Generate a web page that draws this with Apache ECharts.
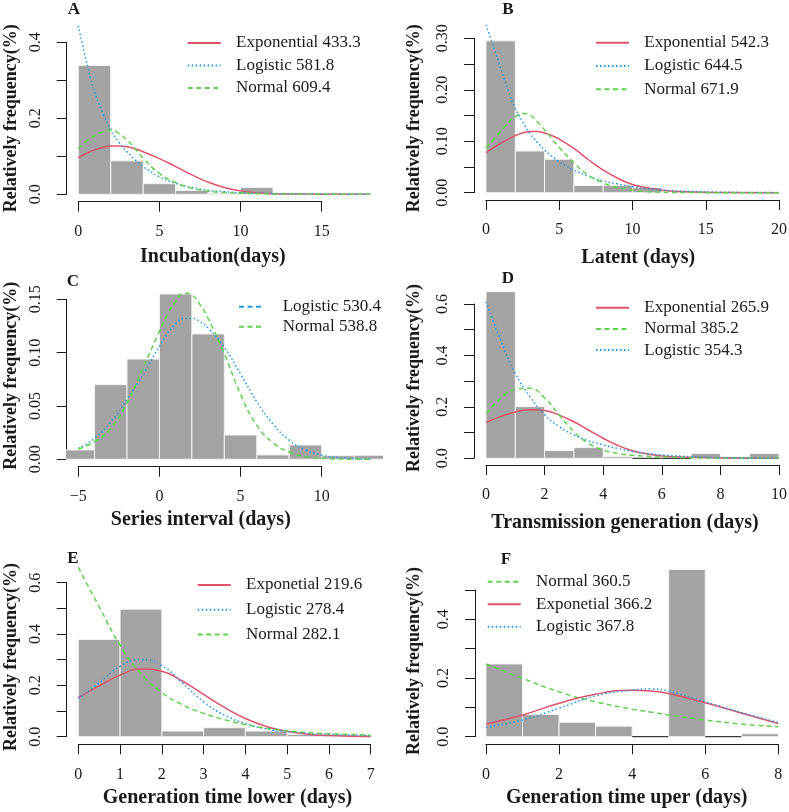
<!DOCTYPE html>
<html><head><meta charset="utf-8">
<script src="https://cdn.jsdelivr.net/npm/echarts@6/dist/echarts.min.js"></script>
<style>html,body{margin:0;padding:0;background:#fff}#c{width:789px;height:812px}</style>
</head><body><div id="c"></div>
<script>
// ===================== DATA =====================
// Panel A: Incubation
const A_binStarts = [0, 2, 4, 6, 8, 10];
const A_binWidth = 2;
const A_freq = [0.339, 0.088, 0.028, 0.010, 0.003, 0.018];
const A_curveX = [0, 0.5, 1, 1.5, 2, 2.5, 3, 3.5, 4, 5, 6, 7, 8, 9, 10, 11, 12, 14, 16, 18];
const A_exponential = [0.096, 0.108, 0.117, 0.123, 0.127, 0.127, 0.125, 0.120, 0.112, 0.094, 0.073, 0.051, 0.032, 0.018, 0.009, 0.004, 0.0015, 0.0005, 0.0002, 0.0001];
const A_logistic = [0.443, 0.350, 0.270, 0.216, 0.169, 0.137, 0.112, 0.091, 0.073, 0.046, 0.029, 0.018, 0.011, 0.007, 0.004, 0.003, 0.002, 0.001, 0.0005, 0.0003];
const A_normal = [0.121, 0.140, 0.154, 0.164, 0.169, 0.160, 0.143, 0.120, 0.095, 0.055, 0.031, 0.016, 0.008, 0.005, 0.003, 0.002, 0.001, 0.0005, 0.0002, 0.0001];
const A_xTicks = [0, 5, 10, 15];
const A_yTicks = [0, 0.1, 0.2, 0.3, 0.4];
const A_yTickLabels = ['0.0', '', '0.2', '', '0.4'];

// Panel B: Latent
const B_binStarts = [0, 2, 4, 6, 8, 10];
const B_binWidth = 2;
const B_freq = [0.295, 0.081, 0.065, 0.014, 0.014, 0.010];
const B_curveX = [0, 0.5, 1, 1.5, 2, 2.5, 3, 3.5, 4, 4.5, 5, 6, 7, 8, 9, 10, 11, 12, 14, 16, 20];
const B_exponential = [0.078, 0.087, 0.096, 0.104, 0.111, 0.116, 0.119, 0.119, 0.116, 0.111, 0.104, 0.086, 0.064, 0.044, 0.028, 0.016, 0.0097, 0.005, 0.0013, 0.0004, 0.0001];
const B_logistic = [0.326, 0.285, 0.242, 0.200, 0.164, 0.138, 0.115, 0.098, 0.083, 0.071, 0.060, 0.044, 0.032, 0.023, 0.017, 0.012, 0.008, 0.005, 0.0025, 0.001, 0.0003];
const B_normal = [0.087, 0.103, 0.119, 0.135, 0.148, 0.154, 0.151, 0.138, 0.122, 0.105, 0.088, 0.058, 0.034, 0.019, 0.010, 0.005, 0.002, 0.001, 0.0003, 0.0001, 0];
const B_xTicks = [0, 5, 10, 15, 20];
const B_yTicks = [0, 0.05, 0.10, 0.15, 0.20, 0.25, 0.30];
const B_yTickLabels = ['0.00', '', '0.10', '', '0.20', '', '0.30'];

// Panel C: Series interval
const C_binStarts = [-6, -4, -2, 0, 2, 4, 6, 8, 10, 12];
const C_binWidth = 2;
const C_freq = [0.0088, 0.070, 0.094, 0.155, 0.1175, 0.0228, 0.0041, 0.0134, 0.0034, 0.0038];
const C_curveX = [-5, -4, -3, -2, -1, 0, 0.5, 1, 1.5, 2, 2.5, 3, 4, 5, 6, 7, 8, 9, 10, 11, 12, 13];
const C_logistic = [0.0103, 0.0197, 0.035, 0.056, 0.080, 0.106, 0.118, 0.127, 0.132, 0.132, 0.129, 0.123, 0.105, 0.080, 0.054, 0.033, 0.018, 0.0088, 0.004, 0.0016, 0.0006, 0.0002];
const C_normal = [0.0097, 0.0166, 0.029, 0.053, 0.086, 0.120, 0.136, 0.148, 0.156, 0.154, 0.145, 0.132, 0.099, 0.061, 0.032, 0.0155, 0.0068, 0.0025, 0.001, 0.0003, 0.0001, 0];
const C_xTicks = [-5, 0, 5, 10];
const C_yTicks = [0, 0.05, 0.10, 0.15];
const C_yTickLabels = ['0.00', '0.05', '0.10', '0.15'];

// Panel D: Transmission generation
const D_binStarts = [0, 1, 2, 3, 4, 5, 6, 7, 8, 9];
const D_binWidth = 1;
const D_freq = [0.648, 0.201, 0.030, 0.0415, 0.0065, 0, 0, 0.019, 0.0065, 0.019];
const D_curveX = [0, 0.5, 1, 1.5, 2, 2.5, 3, 3.5, 4, 4.5, 5, 5.5, 6, 7, 8, 9, 10];
const D_exponential = [0.140, 0.162, 0.180, 0.189, 0.186, 0.168, 0.142, 0.110, 0.078, 0.050, 0.0295, 0.017, 0.009, 0.004, 0.0015, 0.0005, 0.0002];
const D_normal = [0.172, 0.233, 0.268, 0.272, 0.235, 0.168, 0.104, 0.058, 0.032, 0.019, 0.0117, 0.008, 0.005, 0.002, 0.001, 0.0005, 0.0002];
const D_logistic = [0.609, 0.460, 0.330, 0.240, 0.170, 0.123, 0.091, 0.068, 0.052, 0.038, 0.027, 0.019, 0.013, 0.0065, 0.0026, 0.001, 0.0004];
const D_xTicks = [0, 2, 4, 6, 8, 10];
const D_yTicks = [0, 0.1, 0.2, 0.3, 0.4, 0.5, 0.6];
const D_yTickLabels = ['0.0', '', '0.2', '', '0.4', '', '0.6'];

// Panel E: Generation time lower
const E_binStarts = [0, 1, 2, 3, 4, 5, 6];
const E_binWidth = 1;
const E_freq = [0.379, 0.497, 0.022, 0.035, 0.022, 0.009, 0.0065];
const E_curveX = [0, 0.5, 1, 1.5, 2, 2.5, 3, 3.5, 4, 4.5, 5, 5.5, 6, 6.5, 7];
const E_exponetial = [0.152, 0.198, 0.240, 0.264, 0.255, 0.216, 0.165, 0.114, 0.071, 0.040, 0.021, 0.010, 0.0045, 0.002, 0.001];
const E_logistic = [0.149, 0.210, 0.274, 0.301, 0.277, 0.208, 0.136, 0.084, 0.051, 0.031, 0.0195, 0.013, 0.009, 0.006, 0.004];
const E_normal = [0.660, 0.506, 0.357, 0.245, 0.172, 0.124, 0.091, 0.066, 0.047, 0.033, 0.023, 0.016, 0.0117, 0.009, 0.0065];
const E_xTicks = [0, 1, 2, 3, 4, 5, 6, 7];
const E_yTicks = [0, 0.1, 0.2, 0.3, 0.4, 0.5, 0.6];
const E_yTickLabels = ['0.0', '', '0.2', '', '0.4', '', '0.6'];

// Panel F: Generation time uper
const F_binStarts = [0, 1, 2, 3, 4, 5, 6, 7];
const F_binWidth = 1;
const F_freq = [0.248, 0.076, 0.049, 0.036, 0, 0.570, 0, 0.010];
const F_curveX = [0, 1, 2, 3, 4, 4.5, 5, 6, 7, 8];
const F_normal = [0.248, 0.199, 0.153, 0.119, 0.094, 0.084, 0.074, 0.057, 0.043, 0.034];
const F_exponetial = [0.043, 0.074, 0.114, 0.145, 0.158, 0.156, 0.147, 0.116, 0.080, 0.045];
const F_logistic = [0.032, 0.057, 0.097, 0.139, 0.159, 0.1625, 0.155, 0.119, 0.082, 0.049];
const F_xTicks = [0, 2, 4, 6, 8];
const F_yTicks = [0, 0.1, 0.2, 0.3, 0.4, 0.5];
const F_yTickLabels = ['0.0', '', '0.2', '', '0.4', ''];

const yAxisTitle = 'Relatively frequency(%)';

// ===================== STYLE / LAYOUT =====================
const FONT = '"Liberation Serif", "Times New Roman", serif';
const RED = '#DF536B', GREEN = '#61D04F', BLUE = '#2297E6', BAR = '#A3A3A3', INK = '#1a1a1a';
const SOLID = 'solid', DOTTED = [1.5, 2.5], DASHED = [5, 3.5];

const panels = [
  { tag: 'A', xTitle: 'Incubation(days)', bins: [A_binStarts, A_binWidth, A_freq], x: A_curveX,
    curves: [['Exponential 433.3', A_exponential, RED, SOLID], ['Logistic 581.8', A_logistic, BLUE, DOTTED], ['Normal 609.4', A_normal, GREEN, DASHED]],
    xTicks: A_xTicks, yTicks: A_yTicks, yLabels: A_yTickLabels,
    L: { tx: [78.3, 321.7], ty: [194.3, 42.3], xr: [-0.72, 18.72], yr: [-0.0195, 0.51], xLine: 201.7, yLine: 66.7,
         tagPos: [74, 10], xTitlePos: [212.8, 256.7], yTitlePos: [11, 118.3], lg: { left: 186.7, top: 34.5, gap: 5.5, w: 33, pad: 10.3 } } },
  { tag: 'B', xTitle: 'Latent (days)', bins: [B_binStarts, B_binWidth, B_freq], x: B_curveX,
    curves: [['Exponential 542.3', B_exponential, RED, SOLID], ['Logistic 644.5', B_logistic, BLUE, DOTTED], ['Normal 671.9', B_normal, GREEN, DASHED]],
    xTicks: B_xTicks, yTicks: B_yTicks, yLabels: B_yTickLabels,
    L: { tx: [486, 779], ty: [192.7, 38.3], xr: [-0.8, 20.8], yr: [-0.0142, 0.369], xLine: 200, yLine: 474,
         tagPos: [508, 10], xTitlePos: [638.3, 258], yTitlePos: [414, 118.3], lg: { left: 595, top: 34.2, gap: 6.3, w: 33, pad: 10.3 } } },
  { tag: 'C', xTitle: 'Series interval (days)', bins: [C_binStarts, C_binWidth, C_freq], x: C_curveX,
    curves: [['Logistic 530.4', C_logistic, BLUE, DOTTED], ['Normal 538.8', C_normal, GREEN, DASHED]],
    legendLine: DASHED, xTicks: C_xTicks, yTicks: C_yTicks, yLabels: C_yTickLabels,
    L: { tx: [78.3, 321.7], ty: [459.3, 299.3], xr: [-5.72, 13.72], yr: [-0.0069, 0.18], xLine: 466.7, yLine: 66.7,
         tagPos: [73, 281.7], xTitlePos: [200.8, 520], yTitlePos: [11, 375.8], lg: { left: 238, top: 298.2, gap: 3, w: 22, pad: 16.7 } } },
  { tag: 'D', xTitle: 'Transmission generation (days)', bins: [D_binStarts, D_binWidth, D_freq], x: D_curveX,
    curves: [['Exponential 265.9', D_exponential, RED, SOLID], ['Normal 385.2', D_normal, GREEN, DASHED], ['Logistic 354.3', D_logistic, BLUE, DOTTED]],
    xTicks: D_xTicks, yTicks: D_yTicks, yLabels: D_yTickLabels,
    L: { tx: [486, 779], ty: [458.3, 304], xr: [-0.4, 10.4], yr: [-0.026, 0.676], xLine: 465, yLine: 474,
         tagPos: [508, 278.3], xTitlePos: [625, 523.3], yTitlePos: [414, 378], lg: { left: 595, top: 299.2, gap: 4.2, w: 33, pad: 10.3 } } },
  { tag: 'E', xTitle: 'Generation time lower (days)', bins: [E_binStarts, E_binWidth, E_freq], x: E_curveX,
    curves: [['Exponetial 219.6', E_exponetial, RED, SOLID], ['Logistic 278.4', E_logistic, BLUE, DOTTED], ['Normal 282.1', E_normal, GREEN, DASHED]],
    xTicks: E_xTicks, yTicks: E_yTicks, yLabels: E_yTickLabels,
    L: { tx: [78.3, 370.7], ty: [736.7, 582.7], xr: [-0.28, 7.28], yr: [-0.0296, 0.77], xLine: 744.3, yLine: 66.7,
         tagPos: [73, 558.3], xTitlePos: [227.5, 798.3], yTitlePos: [11, 657], lg: { left: 196.7, top: 576.5, gap: 7.7, w: 33, pad: 10.3 } } },
  { tag: 'F', xTitle: 'Generation time uper (days)', bins: [F_binStarts, F_binWidth, F_freq], x: F_curveX,
    curves: [['Normal 360.5', F_normal, GREEN, DASHED], ['Exponetial 366.2', F_exponetial, RED, SOLID], ['Logistic 367.8', F_logistic, BLUE, DOTTED]],
    xTicks: F_xTicks, yTicks: F_yTicks, yLabels: F_yTickLabels,
    L: { tx: [486, 778.3], ty: [736.7, 590], xr: [-0.32, 8.32], yr: [-0.026, 0.676], xLine: 744.3, yLine: 475,
         tagPos: [506, 560], xTitlePos: [626.7, 798.3], yTitlePos: [414, 661], lg: { left: 486.7, top: 573.2, gap: 5.5, w: 33, pad: 10.3 } } }
];

// ===================== BUILD =====================
const grid = [], xAxis = [], yAxis = [], series = [], legend = [], graphic = [];

panels.forEach((p, i) => {
  const L = p.L;
  const xt0 = p.xTicks[0], xt1 = p.xTicks[p.xTicks.length - 1];
  const yt0 = p.yTicks[0], yt1 = p.yTicks[p.yTicks.length - 1];
  const sx = (L.tx[1] - L.tx[0]) / (xt1 - xt0);
  const sy = (L.ty[0] - L.ty[1]) / (yt1 - yt0);
  grid.push({ left: L.tx[0] + (L.xr[0] - xt0) * sx, width: (L.xr[1] - L.xr[0]) * sx,
              top: L.ty[0] - (L.yr[1] - yt0) * sy, height: (L.yr[1] - L.yr[0]) * sy,
              containLabel: false, outerBoundsMode: 'none' });
  grid.push({ left: L.tx[0], width: L.tx[1] - L.tx[0], top: L.ty[1], height: L.ty[0] - L.ty[1],
              containLabel: false, outerBoundsMode: 'none' });
  const gi = 2 * i;
  xAxis.push({ type: 'value', gridIndex: gi, min: L.xr[0], max: L.xr[1], show: false,
    axisLine: { show: false }, axisTick: { show: false }, axisLabel: { show: false }, splitLine: { show: false } });
  yAxis.push({ type: 'value', gridIndex: gi, min: L.yr[0], max: L.yr[1], show: false,
    axisLine: { show: false }, axisTick: { show: false }, axisLabel: { show: false }, splitLine: { show: false } });
  const lineSt = { color: INK, width: 1 };
  xAxis.push({ type: 'value', gridIndex: gi + 1, min: xt0, max: xt1, interval: p.xTicks[1] - p.xTicks[0],
    position: 'bottom', offset: L.xLine - L.ty[0], splitLine: { show: false },
    axisLine: { show: true, onZero: false, lineStyle: lineSt }, axisTick: { show: true, length: 10, lineStyle: lineSt },
    axisLabel: { show: true, margin: 22, fontFamily: FONT, fontSize: 16, color: INK,
      formatter: v => (v < 0 ? '\u2212' + Math.abs(v) : String(v)) } });
  yAxis.push({ type: 'value', gridIndex: gi + 1, min: yt0, max: yt1, interval: p.yTicks[1] - p.yTicks[0],
    position: 'left', offset: L.tx[0] - L.yLine, splitLine: { show: false },
    axisLine: { show: true, onZero: false, lineStyle: lineSt }, axisTick: { show: true, length: 10, lineStyle: lineSt },
    axisLabel: { show: true, rotate: 90, margin: 23, fontFamily: FONT, fontSize: 16, color: INK,
      formatter: (v, idx) => p.yLabels[idx] !== undefined ? p.yLabels[idx] : '' } });

  const [starts, bw, freq] = p.bins;
  series.push({ type: 'custom', xAxisIndex: gi, yAxisIndex: gi, clip: true, silent: true, z: 1,
    data: starts.map((s, k) => [s, s + bw, freq[k]]),
    encode: { x: [0, 1], y: 2 },
    renderItem: (params, api) => {
      const x0 = api.value(0), x1 = api.value(1), h = api.value(2);
      const a = api.coord([x0, 0]), b = api.coord([x1, h]);
      if (h <= 0) {
        return { type: 'line', shape: { x1: a[0], y1: a[1], x2: b[0], y2: a[1] }, style: { stroke: '#3a3a3a', lineWidth: 1.3 } };
      }
      return { type: 'rect', shape: { x: a[0], y: b[1], width: b[0] - a[0], height: a[1] - b[1] },
               style: { fill: BAR, stroke: '#f4f4f4', lineWidth: 1 } };
    } });

  p.curves.forEach(c => {
    series.push({ type: 'line', name: c[0], xAxisIndex: gi, yAxisIndex: gi, clip: true, silent: true, z: 3,
      data: p.x.map((xv, k) => [xv, c[1][k]]), smooth: 0.5,
      symbol: 'none', showSymbol: false,
      lineStyle: { color: c[2], width: 1.5, type: c[3], cap: 'butt' }, itemStyle: { color: c[2] } });
  });

  const lg = { orient: 'vertical', left: L.lg.left, top: L.lg.top, itemWidth: L.lg.w, itemHeight: 14,
    itemGap: L.lg.gap, selectedMode: false, padding: 0,
    data: p.curves.map(c => c[0]),
    itemStyle: { opacity: 0 },
    textStyle: { fontFamily: FONT, fontSize: 17, color: INK, lineHeight: 17, padding: [0, 0, 0, L.lg.pad] } };
  if (p.legendLine) lg.lineStyle = { type: p.legendLine };
  legend.push(lg);

  graphic.push({ type: 'text', x: L.tagPos[0], y: L.tagPos[1], silent: true,
    style: { text: p.tag, font: 'bold 17px ' + FONT, fill: INK, textAlign: 'center', textVerticalAlign: 'middle', verticalAlign: 'middle' } });
  graphic.push({ type: 'text', x: L.xTitlePos[0], y: L.xTitlePos[1], silent: true,
    style: { text: p.xTitle, font: 'bold 20px ' + FONT, fill: INK, textAlign: 'center', textVerticalAlign: 'middle', verticalAlign: 'middle' } });
  graphic.push({ type: 'text', x: L.yTitlePos[0], y: L.yTitlePos[1], rotation: Math.PI / 2, silent: true,
    style: { text: yAxisTitle, font: 'bold 18px ' + FONT, fill: INK, textAlign: 'center', textVerticalAlign: 'middle', verticalAlign: 'middle' } });
});

const chart = echarts.init(document.getElementById('c'), null, { renderer: 'canvas' });
chart.setOption({ backgroundColor: '#ffffff', animation: false, grid, xAxis, yAxis, series, legend, graphic });
</script></body></html>
